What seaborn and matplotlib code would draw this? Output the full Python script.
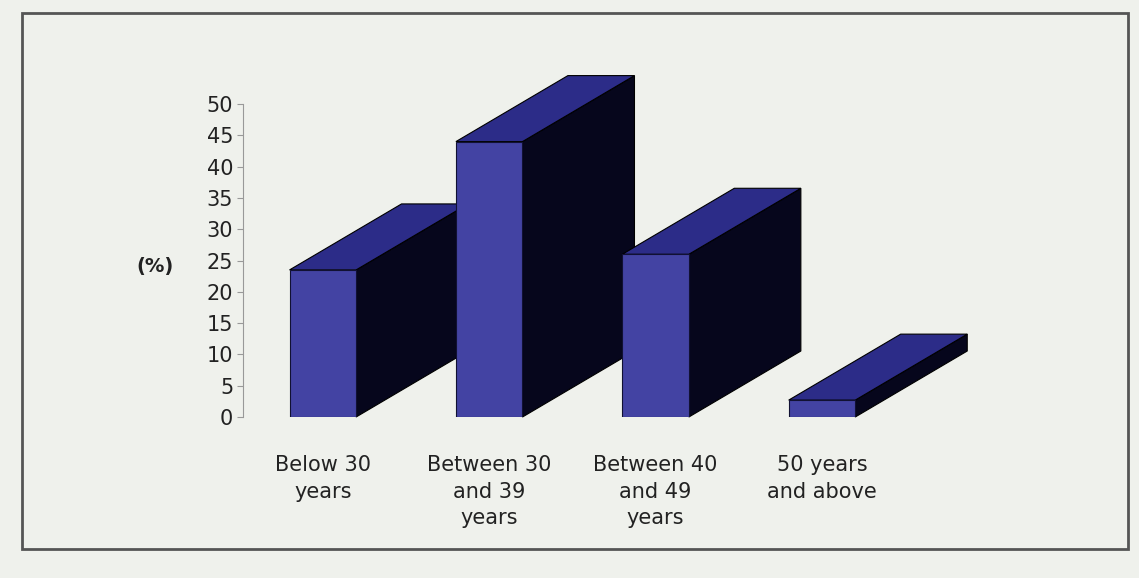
import seaborn as sns
import matplotlib.pyplot as plt
import pandas as pd
from matplotlib.patches import Polygon, Rectangle

# age groups and share of respondents (%)
categories = ['Below 30\nyears', 'Between 30\nand 39\nyears', 'Between 40\nand 49\nyears', '50 years\nand above']
values = [23.5, 44.0, 26.0, 2.7]
y_ticks = list(range(0, 55, 5))

df = pd.DataFrame({'Age': categories, 'Percent': values})

bg = '#eff1ec'
front_col = '#4343a3'
top_col = '#2c2c88'
side_col = '#06061c'

sns.set_style('white')
plt.rcParams['font.family'] = ['DejaVu Sans']

fig = plt.figure(figsize=(11.39, 5.78), dpi=100, facecolor=bg)
ax = fig.add_axes([0.2133, 0.2785, 0.596, 0.5415], facecolor='none')

sns.barplot(x='Age', y='Percent', data=df, color=front_col, width=0.4,
            saturation=1, edgecolor='#111133', linewidth=0.8, ax=ax)

ax.set_xlim(-0.48, 3.6)
ax.set_ylim(0, 50)

# depth of the 3d blocks, given in pixels and turned into data units
dx_px, dy_px = 112, 66
p0 = ax.transData.inverted().transform((0, 0))
p1 = ax.transData.inverted().transform((dx_px, dy_px))
ddx, ddy = p1[0] - p0[0], p1[1] - p0[1]

bars = list(ax.patches[:len(values)])
for i, bar in enumerate(bars):
    x0 = bar.get_x()
    x1 = x0 + bar.get_width()
    h = bar.get_height()
    z = 2 + 3 * i  # bars further right sit closer to the viewer
    side = Polygon([(x1, 0), (x1 + ddx, ddy), (x1 + ddx, h + ddy), (x1, h)],
                   closed=True, facecolor=side_col, edgecolor='#000000',
                   linewidth=0.8, clip_on=False, zorder=z)
    top = Polygon([(x0, h), (x0 + ddx, h + ddy), (x1 + ddx, h + ddy), (x1, h)],
                  closed=True, facecolor=top_col, edgecolor='#000000',
                  linewidth=0.8, clip_on=False, zorder=z + 1)
    ax.add_patch(side)
    ax.add_patch(top)
    bar.set_zorder(z + 2)

ax.set_yticks(y_ticks)
ax.tick_params(axis='y', left=True, length=4, width=0.8, color='#999999',
               labelsize=15, labelcolor='#222222', pad=3)
ax.tick_params(axis='x', bottom=False, labelsize=15, labelcolor='#222222', pad=24)
for lab in ax.get_xticklabels():
    lab.set_linespacing(1.4)
    lab.set_verticalalignment('top')

sns.despine(ax=ax, top=True, right=True, bottom=True)
ax.spines['left'].set_color('#999999')
ax.spines['left'].set_linewidth(0.8)
ax.spines['left'].set_bounds(0, 50)

ax.set_xlabel('')
ax.set_ylabel('(%)', rotation=0, fontsize=14, fontweight='bold', color='#222222',
              labelpad=12, va='center')
ax.yaxis.set_label_coords(-0.13, 0.48)

# outer frame of the figure
fig.patches.append(Rectangle((0.019, 0.05), 0.971, 0.927, transform=fig.transFigure,
                             fill=False, edgecolor='#555555', linewidth=2))

plt.savefig('out.png', dpi=100, facecolor=bg)
plt.close()
